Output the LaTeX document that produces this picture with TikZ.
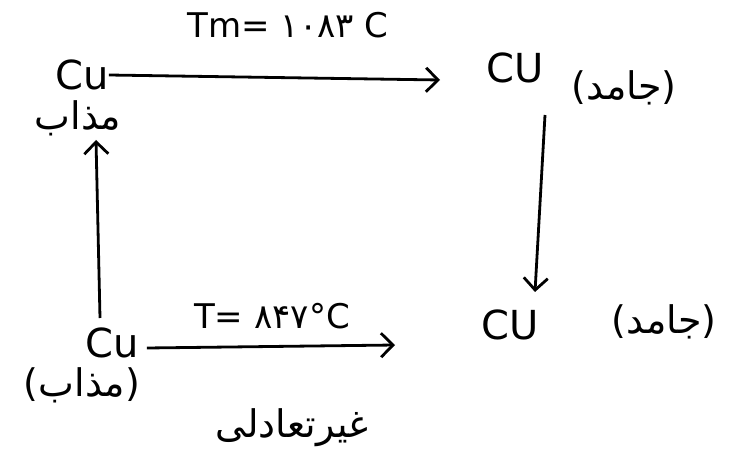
\documentclass[tikz,border=0pt]{standalone}
\usepackage{fontspec}
\setmainfont{DejaVu Sans}
\newfontfamily\arabicfont[Script=Arabic]{DejaVu Sans}
\TeXXeTstate=1
\usetikzlibrary{arrows.meta}
\newcommand\fatext[1]{{\arabicfont\beginR #1\endR}}
\begin{document}
\begin{tikzpicture}[x=1pt,y=-1pt,
  lbl/.style={inner sep=0pt,font=\fontsize{34}{38}\selectfont},
  big/.style={inner sep=0pt,font=\fontsize{40}{44}\selectfont},
  fa/.style={inner sep=0pt,font=\fontsize{38}{42}\selectfont},
  arr/.style={line width=2.8pt,-{Straight Barb[length=12pt,width=24pt,line width=2.8pt]}}]
\useasboundingbox (0,0) rectangle (736,454);
\node[big] (tl) at (82,75) {Cu};
\node[fa] (tlfa) at (78,118) {\fatext{مذاب}};
\node[big] (tr) at (515,68) {CU};
\node[fa] (trfa) at (624,88) {(\fatext{جامد})};
\node[big] (br) at (510,325) {CU};
\node[fa] (brfa) at (664,322) {(\fatext{جامد})};
\node[big] (bl) at (112,343) {Cu};
\node[fa] (blfa) at (82,385) {(\fatext{مذاب})};
\node[lbl] (tm) at (288,25) {Tm= {\arabicfont ۱۰۸۳} C};
\node[lbl] (tb) at (272,316) {T= {\arabicfont ۸۴۷}°C};
\node[fa] (ne) at (292,428) {\fatext{غیرتعادلی}};
\coordinate (a1) at (545,115);
\coordinate (a2) at (100,318);
\draw[arr] (tl.east) -- (440,80);
\draw[arr] (a1) -- (535,292);
\draw[arr] (bl.east) ++(8,5) -- (395,345);
\draw[arr] (a2) -- (96,140);
\end{tikzpicture}
\end{document}
